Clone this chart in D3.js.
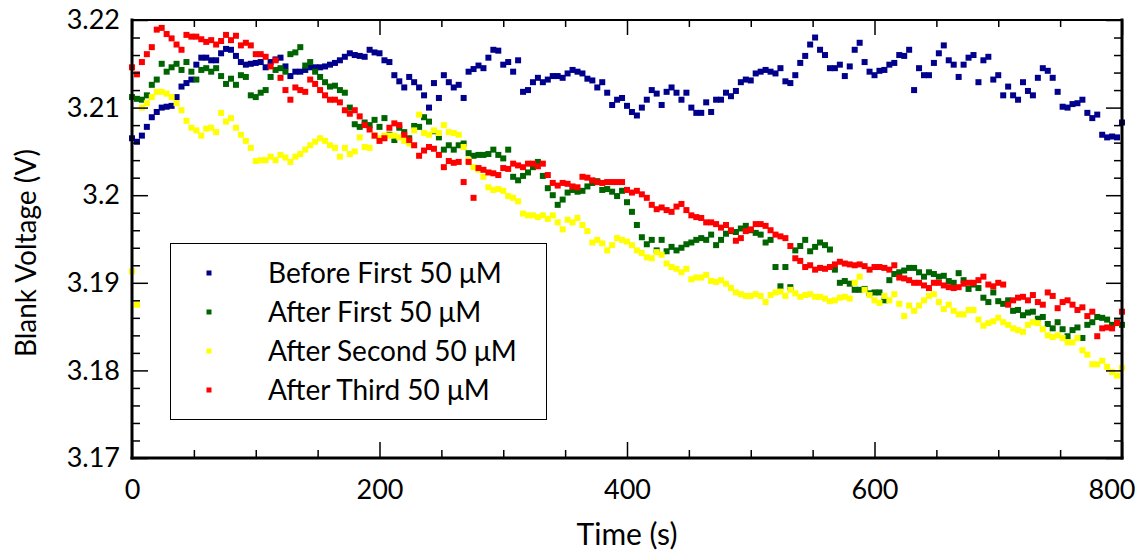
<!DOCTYPE html>
<html>
<head>
<meta charset="utf-8">
<script src="https://cdn.jsdelivr.net/npm/d3@7"></script>
<style>
  html, body { margin: 0; padding: 0; background: #ffffff; }
  svg { display: block; font-family: Lato, "Open Sans", sans-serif; }
</style>
</head>
<body>
<svg id="chart" width="1139" height="550"></svg>
<script>
// Sampling times (s)
const time = [
  0,4,8,12,16,20,24,28,32,36, 40,44,48,52,56,60,64,68,72,76,
  80,84,88,92,96,100,104,108,112,116, 120,124,128,132,136,140,144,148,152,156,
  160,164,168,172,176,180,184,188,192,196, 200,204,208,212,216,220,224,228,232,236,
  240,244,248,252,256,260,264,268,272,276, 280,284,288,292,296,300,304,308,312,316,
  320,324,328,332,336,340,344,348,352,356, 360,364,368,372,376,380,384,388,392,396,
  400,404,408,412,416,420,424,428,432,436, 440,444,448,452,456,460,464,468,472,476,
  480,484,488,492,496,500,504,508,512,516, 520,524,528,532,536,540,544,548,552,556,
  560,564,568,572,576,580,584,588,592,596, 600,604,608,612,616,620,624,628,632,636,
  640,644,648,652,656,660,664,668,672,676, 680,684,688,692,696,700,704,708,712,716,
  720,724,728,732,736,740,744,748,752,756, 760,764,768,772,776,780,784,788,792,796,
  800
];

// Blank voltage (V) for each run
const beforeFirst = [
  3.2065,3.2061,3.2068,3.2078,3.2089,3.2095,3.2100,3.2101,3.2102,3.2112,
  3.2124,3.2128,3.2132,3.2149,3.2157,3.2157,3.2154,3.2154,3.2162,3.2167,
  3.2166,3.2159,3.2152,3.2149,3.2150,3.2151,3.2152,3.2146,3.2152,3.2155,
  3.2157,3.2147,3.2136,3.2141,3.2141,3.2143,3.2146,3.2146,3.2146,3.2147,
  3.2149,3.2151,3.2154,3.2158,3.2162,3.2160,3.2159,3.2158,3.2166,3.2163,
  3.2162,3.2154,3.2152,3.2137,3.2130,3.2123,3.2135,3.2129,3.2123,3.2114,
  3.2100,3.2128,3.2111,3.2137,3.2129,3.2123,3.2126,3.2111,3.2141,3.2144,
  3.2148,3.2145,3.2157,3.2166,3.2165,3.2149,3.2152,3.2141,3.2154,3.2118,
  3.2120,3.2129,3.2134,3.2129,3.2132,3.2136,3.2136,3.2134,3.2139,3.2143,
  3.2141,3.2139,3.2133,3.2131,3.2123,3.2129,3.2117,3.2103,3.2109,3.2111,
  3.2102,3.2095,3.2091,3.2100,3.2109,3.2120,3.2116,3.2103,3.2118,3.2123,
  3.2117,3.2109,3.2117,3.2100,3.2094,3.2094,3.2106,3.2095,3.2109,3.2109,
  3.2117,3.2113,3.2119,3.2129,3.2132,3.2131,3.2139,3.2141,3.2143,3.2141,
  3.2139,3.2145,3.2130,3.2128,3.2137,3.2151,3.2159,3.2172,3.2180,3.2166,
  3.2160,3.2145,3.2145,3.2149,3.2136,3.2147,3.2166,3.2174,3.2152,3.2141,
  3.2137,3.2142,3.2143,3.2149,3.2151,3.2160,3.2159,3.2166,3.2120,3.2145,
  3.2137,3.2137,3.2151,3.2162,3.2171,3.2154,3.2149,3.2135,3.2149,3.2157,
  3.2160,3.2129,3.2154,3.2158,3.2132,3.2137,3.2114,3.2124,3.2114,3.2109,
  3.2129,3.2119,3.2114,3.2134,3.2145,3.2142,3.2134,3.2118,3.2101,3.2100,
  3.2104,3.2105,3.2109,3.2094,3.2088,3.2092,3.2069,3.2066,3.2067,3.2066,
  3.2083
];

const afterFirst = [
  3.2112,3.2110,3.2109,3.2114,3.2126,3.2132,3.2150,3.2141,3.2146,3.2150,
  3.2143,3.2152,3.2141,3.2132,3.2143,3.2145,3.2141,3.2145,3.2136,3.2127,
  3.2133,3.2126,3.2137,3.2135,3.2114,3.2112,3.2117,3.2120,3.2135,3.2143,
  3.2145,3.2141,3.2161,3.2163,3.2169,3.2148,3.2152,3.2141,3.2135,3.2129,
  3.2124,3.2125,3.2120,3.2117,3.2100,3.2081,3.2078,3.2083,3.2080,3.2086,
  3.2078,3.2088,3.2069,3.2063,3.2077,3.2072,3.2065,3.2079,3.2078,3.2089,
  3.2084,3.2073,3.2066,3.2052,3.2057,3.2052,3.2057,3.2059,3.2048,3.2045,
  3.2046,3.2046,3.2047,3.2052,3.2046,3.2042,3.2052,3.2021,3.2017,3.2022,
  3.2026,3.2032,3.2038,3.2022,3.2008,3.2000,3.1989,3.1995,3.2003,3.2006,
  3.2004,3.2005,3.2010,3.2014,3.2016,3.2006,3.2007,3.2004,3.1999,3.2005,
  3.1992,3.1981,3.1966,3.1952,3.1944,3.1949,3.1937,3.1949,3.1936,3.1941,
  3.1937,3.1940,3.1944,3.1946,3.1949,3.1951,3.1949,3.1955,3.1943,3.1949,
  3.1956,3.1959,3.1958,3.1962,3.1965,3.1960,3.1957,3.1955,3.1946,3.1949,
  3.1918,3.1896,3.1918,3.1895,3.1937,3.1942,3.1949,3.1936,3.1941,3.1946,
  3.1943,3.1938,3.1915,3.1900,3.1902,3.1899,3.1892,3.1892,3.1893,3.1888,
  3.1889,3.1889,3.1880,3.1903,3.1910,3.1912,3.1914,3.1917,3.1917,3.1912,
  3.1907,3.1912,3.1910,3.1907,3.1908,3.1902,3.1900,3.1911,3.1903,3.1893,
  3.1898,3.1894,3.1883,3.1878,3.1889,3.1879,3.1876,3.1880,3.1868,3.1869,
  3.1863,3.1866,3.1867,3.1859,3.1861,3.1853,3.1848,3.1855,3.1847,3.1839,
  3.1846,3.1849,3.1837,3.1852,3.1855,3.1861,3.1860,3.1858,3.1852,3.1855,
  3.1852
];

const afterSecond = [
  3.1913,3.1875,3.2100,3.2105,3.2112,3.2118,3.2118,3.2116,3.2112,3.2105,
  3.2097,3.2085,3.2077,3.2074,3.2068,3.2076,3.2077,3.2072,3.2094,3.2084,
  3.2088,3.2077,3.2069,3.2062,3.2054,3.2039,3.2040,3.2040,3.2044,3.2040,
  3.2046,3.2043,3.2038,3.2044,3.2047,3.2052,3.2057,3.2061,3.2065,3.2062,
  3.2057,3.2054,3.2044,3.2054,3.2047,3.2050,3.2066,3.2055,3.2054,3.2068,
  3.2065,3.2068,3.2068,3.2068,3.2066,3.2062,3.2059,3.2074,3.2092,3.2071,
  3.2069,3.2074,3.2071,3.2080,3.2072,3.2071,3.2069,3.2055,3.2040,3.2032,
  3.2029,3.2021,3.2009,3.2006,3.2007,3.2005,3.1999,3.1997,3.1993,3.1979,
  3.1977,3.1977,3.1975,3.1977,3.1973,3.1977,3.1969,3.1961,3.1972,3.1969,
  3.1974,3.1966,3.1959,3.1946,3.1949,3.1945,3.1937,3.1943,3.1951,3.1949,
  3.1947,3.1943,3.1937,3.1934,3.1929,3.1928,3.1935,3.1932,3.1922,3.1918,
  3.1916,3.1912,3.1916,3.1904,3.1906,3.1906,3.1909,3.1902,3.1901,3.1903,
  3.1899,3.1894,3.1889,3.1887,3.1885,3.1885,3.1887,3.1885,3.1878,3.1886,
  3.1889,3.1890,3.1885,3.1892,3.1888,3.1884,3.1886,3.1887,3.1884,3.1884,
  3.1882,3.1879,3.1880,3.1883,3.1884,3.1882,3.1900,3.1907,3.1892,3.1886,
  3.1880,3.1877,3.1885,3.1880,3.1887,3.1876,3.1862,3.1874,3.1868,3.1874,
  3.1880,3.1885,3.1887,3.1878,3.1870,3.1875,3.1868,3.1864,3.1864,3.1869,
  3.1869,3.1858,3.1851,3.1854,3.1856,3.1860,3.1855,3.1852,3.1848,3.1846,
  3.1844,3.1852,3.1855,3.1854,3.1847,3.1840,3.1838,3.1840,3.1837,3.1832,
  3.1832,3.1837,3.1823,3.1818,3.1807,3.1807,3.1811,3.1804,3.1798,3.1794,
  3.1803
];

const afterThird = [
  3.2146,3.2138,3.2152,3.2161,3.2169,3.2189,3.2191,3.2184,3.2179,3.2172,
  3.2166,3.2183,3.2181,3.2181,3.2178,3.2175,3.2177,3.2172,3.2176,3.2183,
  3.2177,3.2182,3.2171,3.2174,3.2171,3.2161,3.2161,3.2158,3.2147,3.2154,
  3.2134,3.2120,3.2109,3.2123,3.2120,3.2118,3.2132,3.2127,3.2120,3.2114,
  3.2109,3.2109,3.2106,3.2097,3.2093,3.2097,3.2090,3.2080,3.2075,3.2068,
  3.2062,3.2065,3.2077,3.2082,3.2080,3.2069,3.2063,3.2057,3.2045,3.2051,
  3.2055,3.2053,3.2046,3.2032,3.2039,3.2037,3.2038,3.2015,3.2038,3.1997,
  3.2031,3.2029,3.2026,3.2025,3.2023,3.2031,3.2030,3.2036,3.2034,3.2032,
  3.2036,3.2036,3.2033,3.2036,3.2023,3.2014,3.2011,3.2014,3.2013,3.2010,
  3.2009,3.2021,3.2020,3.2017,3.2015,3.2014,3.2015,3.2015,3.2015,3.2015,
  3.2006,3.2003,3.2005,3.2001,3.1997,3.1989,3.1984,3.1986,3.1983,3.1981,
  3.1987,3.1990,3.1983,3.1977,3.1975,3.1974,3.1969,3.1969,3.1967,3.1963,
  3.1966,3.1960,3.1948,3.1951,3.1959,3.1961,3.1967,3.1967,3.1965,3.1960,
  3.1955,3.1953,3.1951,3.1942,3.1928,3.1925,3.1918,3.1920,3.1915,3.1917,
  3.1916,3.1918,3.1921,3.1924,3.1922,3.1921,3.1920,3.1921,3.1919,3.1915,
  3.1918,3.1918,3.1917,3.1915,3.1920,3.1906,3.1905,3.1903,3.1900,3.1900,
  3.1897,3.1894,3.1900,3.1900,3.1897,3.1895,3.1894,3.1895,3.1899,3.1900,
  3.1900,3.1903,3.1907,3.1898,3.1896,3.1900,3.1898,3.1875,3.1880,3.1883,
  3.1884,3.1880,3.1886,3.1878,3.1875,3.1889,3.1885,3.1871,3.1878,3.1880,
  3.1875,3.1869,3.1872,3.1862,3.1867,3.1839,3.1848,3.1849,3.1848,3.1854,
  3.1867
];

const seriesNames = ["Before First 50 μM", "After First 50 μM", "After Second 50 μM", "After Third 50 μM"];
const seriesColors = ["#00008c", "#006400", "#ffff00", "#ff0000"];

const xMajorTicks = [0, 200, 400, 600, 800];
const xMinorTicks = [50, 100, 150, 250, 300, 350, 450, 500, 550, 650, 700, 750];
const yMajorTicks = [3.17, 3.18, 3.19, 3.2, 3.21, 3.22];
const yTickLabels = ["3.17", "3.18", "3.19", "3.2", "3.21", "3.22"];
const yMinorTicks = [3.172, 3.174, 3.176, 3.178, 3.182, 3.184, 3.186, 3.188,
                     3.192, 3.194, 3.196, 3.198, 3.202, 3.204, 3.206, 3.208,
                     3.212, 3.214, 3.216, 3.218];

const xTitle = "Time (s)";
const yTitle = "Blank Voltage (V)";

// ---- layout ----
const W = 1139, H = 550;
const plot = { left: 132, right: 1122, top: 20, bottom: 458 };

const svg = d3.select("#chart");

const x = d3.scaleLinear().domain([0, 800]).range([plot.left, plot.right]);
const y = d3.scaleLinear().domain([3.17, 3.22]).range([plot.bottom, plot.top]);

const series = [beforeFirst, afterFirst, afterSecond, afterThird].map((vals, i) => ({
  name: seriesNames[i],
  color: seriesColors[i],
  points: time.map((t, j) => ({ t, v: vals[j] }))
}));

// ---- data markers ----
const M = 6;
const dataG = svg.append("g");
series.forEach(s => {
  dataG.append("g")
    .attr("fill", s.color)
    .selectAll("rect")
    .data(s.points)
    .join("rect")
    .attr("x", d => x(d.t) - M / 2)
    .attr("y", d => y(d.v) - M / 2)
    .attr("width", M)
    .attr("height", M);
});

// ---- axes (ticks point into the plot on all four sides) ----
function styleAxis(g, width) {
  g.select(".domain").remove();
  g.selectAll(".tick line").attr("stroke", "#000").attr("stroke-width", width);
  g.selectAll("text")
    .attr("fill", "#000")
    .attr("font-family", "Lato, 'Open Sans', sans-serif")
    .attr("font-size", 27);
}

svg.append("g")
  .attr("transform", `translate(0,${plot.bottom})`)
  .call(d3.axisBottom(x).tickValues(xMajorTicks).tickSize(-16).tickPadding(22).tickFormat(d3.format("d")))
  .call(g => styleAxis(g, 1.5))
  // keep the last label inside the canvas
  .call(g => g.selectAll(".tick text").filter(d => d === xMajorTicks[xMajorTicks.length - 1])
                .attr("text-anchor", "end").attr("dx", 13));
svg.append("g")
  .attr("transform", `translate(0,${plot.bottom})`)
  .call(d3.axisBottom(x).tickValues(xMinorTicks).tickSize(-8).tickFormat(""))
  .call(g => styleAxis(g, 1.5));
svg.append("g")
  .attr("transform", `translate(0,${plot.top})`)
  .call(d3.axisTop(x).tickValues(xMajorTicks).tickSize(-15).tickFormat(""))
  .call(g => styleAxis(g, 1.5));
svg.append("g")
  .attr("transform", `translate(0,${plot.top})`)
  .call(d3.axisTop(x).tickValues(xMinorTicks).tickSize(-7).tickFormat(""))
  .call(g => styleAxis(g, 1.5));

svg.append("g")
  .attr("transform", `translate(${plot.left},0)`)
  .call(d3.axisLeft(y).tickValues(yMajorTicks).tickSize(-16).tickPadding(12)
        .tickFormat((d, i) => yTickLabels[i]))
  .call(g => styleAxis(g, 1.5));
svg.append("g")
  .attr("transform", `translate(${plot.left},0)`)
  .call(d3.axisLeft(y).tickValues(yMinorTicks).tickSize(-8).tickFormat(""))
  .call(g => styleAxis(g, 1.5));
svg.append("g")
  .attr("transform", `translate(${plot.right},0)`)
  .call(d3.axisRight(y).tickValues(yMajorTicks).tickSize(-16).tickFormat(""))
  .call(g => styleAxis(g, 1.5));
svg.append("g")
  .attr("transform", `translate(${plot.right},0)`)
  .call(d3.axisRight(y).tickValues(yMinorTicks).tickSize(-8).tickFormat(""))
  .call(g => styleAxis(g, 1.5));

// ---- plot frame ----
const frame = svg.append("g").attr("stroke", "#000").attr("stroke-linecap", "square");
frame.append("line").attr("x1", plot.left).attr("x2", plot.right).attr("y1", plot.top).attr("y2", plot.top).attr("stroke-width", 2);
frame.append("line").attr("x1", plot.left).attr("x2", plot.right).attr("y1", plot.bottom).attr("y2", plot.bottom).attr("stroke-width", 3);
frame.append("line").attr("x1", plot.left).attr("x2", plot.left).attr("y1", plot.top).attr("y2", plot.bottom).attr("stroke-width", 3);
frame.append("line").attr("x1", plot.right).attr("x2", plot.right).attr("y1", plot.top).attr("y2", plot.bottom).attr("stroke-width", 3);

// ---- axis titles ----
svg.append("text")
  .attr("x", (plot.left + plot.right) / 2)
  .attr("y", 545)
  .attr("text-anchor", "middle")
  .attr("font-size", 30)
  .attr("fill", "#000")
  .text(xTitle);

svg.append("text")
  .attr("transform", `translate(36,${(plot.top + plot.bottom) / 2 + 14}) rotate(-90)`)
  .attr("text-anchor", "middle")
  .attr("font-size", 28)
  .attr("fill", "#000")
  .text(yTitle);

// ---- legend ----
const legend = svg.append("g");
legend.append("rect")
  .attr("x", 170.5).attr("y", 243.5)
  .attr("width", 376).attr("height", 176)
  .attr("fill", "#fff").attr("stroke", "#000").attr("stroke-width", 1);

const rowY = d3.scalePoint().domain(seriesNames).range([273, 390]);
const rows = legend.selectAll("g.row")
  .data(series)
  .join("g")
  .attr("class", "row")
  .attr("transform", d => `translate(0,${rowY(d.name)})`);
rows.append("rect")
  .attr("x", 209 - 2.5).attr("y", -2.5)
  .attr("width", 5).attr("height", 5)
  .attr("fill", d => d.color);
rows.append("text")
  .attr("x", 268)
  .attr("y", 10)
  .attr("font-size", 28)
  .attr("fill", "#000")
  .text(d => d.name);
</script>
</body>
</html>
